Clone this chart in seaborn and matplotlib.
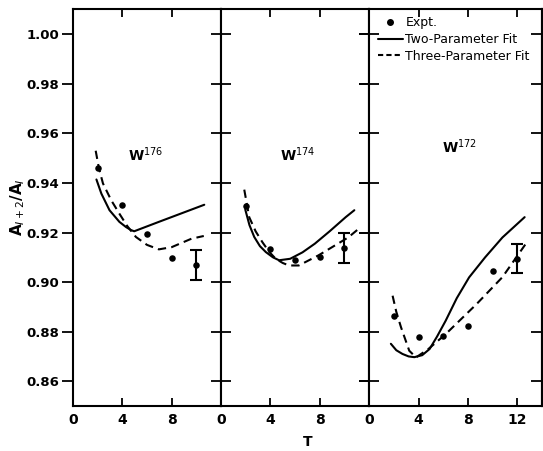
import matplotlib
matplotlib.use("Agg")
import matplotlib.pyplot as plt
import seaborn as sns
import numpy as np
import pandas as pd
from matplotlib.lines import Line2D

# ---------------- data ----------------
isotopes = ["W$^{176}$", "W$^{174}$", "W$^{172}$"]

expt_T = [[2, 4, 6, 8, 10], [2, 4, 6, 8, 10], [2, 4, 6, 8, 10, 12]]
expt_176 = [0.9459, 0.9310, 0.9196, 0.9099, 0.9069]
expt_174 = [0.9306, 0.9135, 0.9088, 0.9100, 0.9139]
expt_172 = [0.8862, 0.8778, 0.8781, 0.8821, 0.9043, 0.9095]
err_T = [10, 10, 12]
err_val = [0.9069, 0.9139, 0.9095]
err_size = [0.0062, 0.0061, 0.0059]

two_T_176 = [1.9, 2.3, 2.96, 3.76, 4.3, 4.7, 4.96, 6.96, 10.64]
two_176 = [0.9414, 0.9357, 0.9290, 0.9243, 0.9222, 0.9210, 0.9205, 0.9243, 0.9312]
three_T_176 = [1.84, 2.1, 2.43, 3.1, 3.76, 4.4, 5.1, 6.0, 6.96, 8.0, 9.6, 10.6]
three_176 = [0.9530, 0.9460, 0.9398, 0.9330, 0.9276, 0.9226, 0.9182, 0.9150, 0.9132, 0.9141, 0.9175, 0.9186]

two_T_174 = [1.96, 2.3, 2.69, 3.15, 3.63, 4.2, 4.7, 5.6, 6.6, 7.6, 8.8, 10.1, 10.8]
two_174 = [0.9293, 0.9230, 0.9182, 0.9145, 0.9121, 0.9100, 0.9088, 0.9094, 0.9120, 0.9155, 0.9205, 0.9262, 0.9290]
three_T_174 = [1.88, 2.28, 2.8, 3.35, 3.9, 4.43, 5.0, 5.5, 6.3, 7.9, 10.3, 11.15]
three_174 = [0.9373, 0.9262, 0.9205, 0.9161, 0.9122, 0.9094, 0.9077, 0.9067, 0.9067, 0.9108, 0.9180, 0.9215]

two_T_172 = [1.76, 2.2, 2.7, 3.2, 3.66, 4.3, 4.9, 5.5, 6.2, 7.1, 8.1, 9.4, 10.8, 12.6]
two_172 = [0.8751, 0.8725, 0.8710, 0.8700, 0.8697, 0.8705, 0.8730, 0.8780, 0.8844, 0.8935, 0.9019, 0.9100, 0.9180, 0.9262]
three_T_172 = [1.9, 2.2, 2.58, 3.25, 3.8, 4.8, 6.2, 8.7, 10.8, 12.7]
three_172 = [0.8945, 0.8880, 0.8818, 0.8723, 0.8696, 0.8730, 0.8790, 0.8911, 0.9020, 0.9155]

label_pos = [(5.9, 0.9512), (6.2, 0.9512), (7.3, 0.9545)]
x_limits = [12, 12, 14]
x_ticks = [[0, 4, 8], [0, 4, 8], [0, 4, 8, 12]]
y_ticks = [0.86, 0.88, 0.90, 0.92, 0.94, 0.96, 0.98, 1.00]
y_ticklabels = ["0.86", "0.88", "0.90", "0.92", "0.94", "0.96", "0.98", "1.00"]

# ---------------- plot ----------------
sns.set_style("ticks")
plt.rcParams["font.family"] = ["DejaVu Sans"]
plt.rcParams["text.color"] = "black"
plt.rcParams["axes.labelcolor"] = "black"
plt.rcParams["xtick.color"] = "black"
plt.rcParams["ytick.color"] = "black"

fig = plt.figure(figsize=(5.43, 4.51), dpi=100)
gs = fig.add_gridspec(1, 3, width_ratios=x_limits, wspace=0,
                      left=0.1344, right=0.998, top=0.979, bottom=0.0998)
axes = [fig.add_subplot(gs[0, i]) for i in range(3)]

expts = [expt_176, expt_174, expt_172]
twos = [(two_T_176, two_176), (two_T_174, two_174), (two_T_172, two_172)]
threes = [(three_T_176, three_176), (three_T_174, three_174), (three_T_172, three_172)]

for i, ax in enumerate(axes):
    tx, ty = twos[i]
    sns.lineplot(x=tx, y=ty, ax=ax, color="black", lw=1.5, sort=False, estimator=None)
    hx, hy = threes[i]
    sns.lineplot(x=hx, y=hy, ax=ax, color="black", lw=1.5, sort=False,
                 estimator=None, linestyle=(0, (4, 2.5)))
    sns.scatterplot(x=expt_T[i], y=expts[i], ax=ax, color="black", s=22,
                    edgecolor="black", linewidth=0, zorder=5)
    ax.errorbar([err_T[i]], [err_val[i]], yerr=[err_size[i]], fmt="none",
                ecolor="black", elinewidth=1.5, capsize=4, capthick=1.5)
    ax.text(label_pos[i][0], label_pos[i][1], isotopes[i], ha="center",
            va="center", fontsize=10, fontweight="bold")
    ax.set_xlim(0, x_limits[i])
    ax.set_ylim(0.85, 1.01)
    ax.set_xticks(x_ticks[i])
    ax.set_xticklabels([str(t) for t in x_ticks[i]], fontsize=10, fontweight="bold")
    ax.set_yticks(y_ticks)
    for s in ax.spines.values():
        s.set_visible(True)
        s.set_linewidth(1.5)
        s.set_color("black")
    ax.tick_params(axis="x", direction="in", top=True, bottom=True, length=6,
                   width=1.3, pad=5)
    if i == 0:
        ax.set_yticklabels(y_ticklabels, fontsize=9.5, fontweight="bold")
    else:
        ax.set_yticklabels([])
    ax.set_xlabel("")
    ax.set_ylabel("")

axes[0].tick_params(axis="y", direction="out", left=True, right=False, length=8,
                    width=1.3, pad=2)
axes[1].tick_params(axis="y", direction="inout", left=True, right=True, length=14,
                    width=1.3)
axes[2].tick_params(axis="y", direction="inout", left=True, right=False, length=14,
                    width=1.3)
# inward ticks on the outer right edge of the last panel
sec = axes[2].secondary_yaxis("right")
sec.set_yticks(y_ticks)
sec.set_yticklabels([])
sec.tick_params(direction="in", length=8, width=1.3)
sec.spines["right"].set_linewidth(1.5)

handles = [
    Line2D([], [], marker="o", color="black", linestyle="none", markersize=4),
    Line2D([], [], color="black", lw=1.5),
    Line2D([], [], color="black", lw=1.5, linestyle=(0, (2.5, 1.5))),
]
axes[2].legend(handles, ["Expt.", "Two-Parameter Fit", "Three-Parameter Fit"],
               loc="upper left", bbox_to_anchor=(0.0, 1.005), frameon=False,
               fontsize=9, handlelength=2.0, handletextpad=0.2,
               labelspacing=0.3, borderaxespad=0.3)

fig.supxlabel("T", x=0.566, y=0.005, fontsize=10, fontweight="bold")
fig.supylabel("A$_{I+2}$/A$_I$", x=0.015, y=0.54, fontsize=11, fontweight="bold")

fig.savefig("out.png", dpi=100)
